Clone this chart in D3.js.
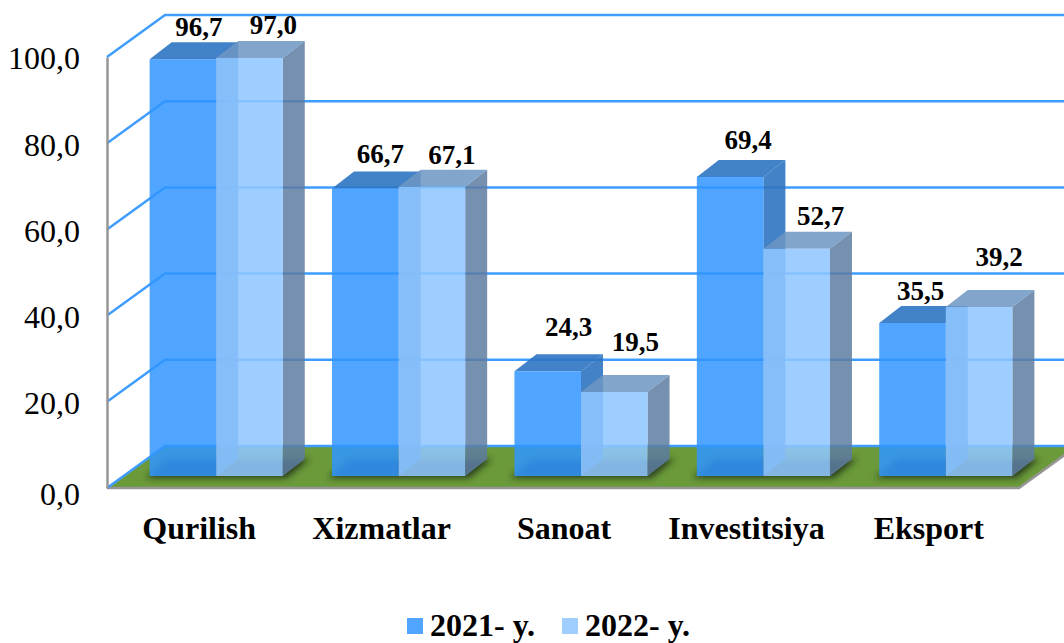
<!DOCTYPE html>
<html>
<head>
<meta charset="utf-8">
<script src="https://cdn.jsdelivr.net/npm/d3@7"></script>
<style>
html, body { margin: 0; padding: 0; background: #fff; }
svg { display: block; }
text { font-family: "Liberation Serif", serif; fill: #000; }
</style>
</head>
<body>
<div id="chart"></div>
<script>
var categories = ['Qurilish', 'Xizmatlar', 'Sanoat', 'Investitsiya', 'Eksport'];
var values2021 = [96.7, 66.7, 24.3, 69.4, 35.5];
var values2022 = [97.0, 67.1, 19.5, 52.7, 39.2];
var seriesNames = ['2021- y.', '2022- y.'];
var yTicks = [0, 20, 40, 60, 80, 100];

// hand placed data labels in the original, so nudged per bar from the top back edge
var nudge2021 = [[16, -6], [15, -9], [21, -18], [18, -11], [8, -6]];
var nudge2022 = [[24, -7], [20, -6], [21, -24], [24, -7], [20, -24]];

var width = 1064;
var height = 643;

var wall = { dx: 58, dy: -42 };   // depth of the floor
var barFront = { dx: 18, dy: -12 };
var barDepth = { dx: 22, dy: -17 };

var svg = d3.select('#chart').append('svg')
    .attr('width', width)
    .attr('height', height);

var x = d3.scaleBand()
    .domain(categories)
    .range([107, 1019])
    .paddingInner(0.27)
    .paddingOuter(0.135);

var x1 = d3.scaleBand()
    .domain([0, 1])
    .range([0, x.bandwidth()]);

var y = d3.scaleLinear().domain([0, 100]).range([488, 57]);

var line = d3.line();
function poly(points) { return line(points) + 'Z'; }
var fmt = function (v) { return d3.format('.1f')(v).replace('.', ','); };

var defs = svg.append('defs');
defs.append('filter').attr('id', 'blur')
    .attr('x', '-30%').attr('y', '-60%').attr('width', '160%').attr('height', '220%')
    .append('feGaussianBlur').attr('stdDeviation', 3);

var x0 = x.range()[0];
var x9 = x.range()[1];

// floor
var floorPts = [[x0, y(0)], [x9, y(0)], [x9 + wall.dx, y(0) + wall.dy], [x0 + wall.dx, y(0) + wall.dy]];
defs.append('clipPath').attr('id', 'floorClip').append('path').attr('d', poly(floorPts));

svg.append('path')
    .attr('d', poly(floorPts))
    .attr('fill', '#6b9a3a');

// shadows under the bar groups
svg.append('g').attr('clip-path', 'url(#floorClip)')
    .selectAll('path').data(categories).enter().append('path')
    .attr('filter', 'url(#blur)')
    .attr('fill', '#1f2e14')
    .attr('fill-opacity', 0.85)
    .attr('d', function (c) {
        var l = x(c) + barFront.dx, r = l + x.bandwidth(), b = y(0) + barFront.dy;
        return poly([[l - 4, b + 2], [r + 4, b + 2], [r + barDepth.dx + 5, b + barDepth.dy], [l + barDepth.dx - 4, b + barDepth.dy]]);
    });

// floor edge
svg.append('path')
    .attr('d', line([[x0, y(0)], [x9, y(0)], [x9 + wall.dx, y(0) + wall.dy]]))
    .attr('fill', 'none')
    .attr('stroke', '#969696')
    .attr('stroke-width', 2.5);

// grid on the wall
var grid = svg.append('g').attr('fill', 'none').attr('stroke', '#3f9dff').attr('stroke-width', 2.5);
yTicks.forEach(function (t) {
    grid.append('path').attr('d', line([
        [x0, y(t)],
        [x0 + wall.dx, y(t) + wall.dy],
        [width + 5, y(t) + wall.dy]
    ]));
});

// y axis
var yAxis = svg.append('g')
    .attr('transform', 'translate(' + x0 + ',0)')
    .call(d3.axisLeft(y).tickValues(yTicks).tickSize(0).tickPadding(27).tickFormat(fmt));
yAxis.select('.domain').attr('stroke', '#969696').attr('stroke-width', 2.5);
yAxis.selectAll('text')
    .style('font-family', '"Liberation Serif", serif')
    .style('font-size', '32px')
    .attr('dy', function (t) { return t === 0 ? '0.5em' : '0.37em'; });

// x axis
var xAxis = svg.append('g')
    .attr('transform', 'translate(1,' + y(0) + ')')
    .call(d3.axisBottom(x).tickSize(0).tickPadding(28));
xAxis.select('.domain').remove();
xAxis.selectAll('text')
    .style('font-family', '"Liberation Serif", serif')
    .style('font-size', '32px')
    .style('font-weight', 'bold');

// bars
var styles = [
    { front: '#3095ff', side: '#2f74c0', top: '#2e74c2', alpha: 0.85, faceAlpha: 0.9 },
    { front: '#90c7ff', side: '#5e7da2', top: '#6c95c3', alpha: 0.87, faceAlpha: 0.85 }
];

function drawBars(values, s, st) {
    var g = svg.append('g');
    values.forEach(function (v, i) {
        var l = x(categories[i]) + x1(s) + barFront.dx;
        var r = l + x1.bandwidth();
        var b = y(0) + barFront.dy;
        var t = y(v) + barFront.dy;
        var d = barDepth;
        g.append('path')
            .attr('d', poly([[r, b], [r + d.dx, b + d.dy], [r + d.dx, t + d.dy], [r, t]]))
            .attr('fill', st.side).attr('fill-opacity', st.faceAlpha);
        g.append('path')
            .attr('d', poly([[l, t], [r, t], [r + d.dx, t + d.dy], [l + d.dx, t + d.dy]]))
            .attr('fill', st.top).attr('fill-opacity', st.faceAlpha);
        g.append('rect')
            .attr('x', l).attr('y', t)
            .attr('width', r - l).attr('height', b - t)
            .attr('fill', st.front).attr('fill-opacity', st.alpha);
    });
}
drawBars(values2021, 0, styles[0]);
drawBars(values2022, 1, styles[1]);

// value labels
function drawLabels(values, s, nudge) {
    svg.append('g').selectAll('text').data(values).enter().append('text')
        .attr('x', function (v, i) {
            return x(categories[i]) + x1(s) + x1.bandwidth() / 2 + barFront.dx + nudge[i][0];
        })
        .attr('y', function (v, i) {
            return y(v) + barFront.dy + barDepth.dy + nudge[i][1];
        })
        .attr('text-anchor', 'middle')
        .style('font-size', '27px')
        .style('font-weight', 'bold')
        .text(fmt);
}
drawLabels(values2021, 0, nudge2021);
drawLabels(values2022, 1, nudge2022);

// legend
var legendColors = ['#4fa5ff', '#9fceff'];
var legendX = [407, 562];
var legend = svg.append('g').selectAll('g').data(seriesNames).enter().append('g')
    .attr('transform', function (d, i) { return 'translate(' + legendX[i] + ',618)'; });
legend.append('rect')
    .attr('width', 16).attr('height', 16)
    .attr('fill', function (d, i) { return legendColors[i]; });
legend.append('text')
    .attr('x', 23).attr('y', 18)
    .style('font-size', '32px')
    .style('font-weight', 'bold')
    .text(function (d) { return d; });
</script>
</body>
</html>
